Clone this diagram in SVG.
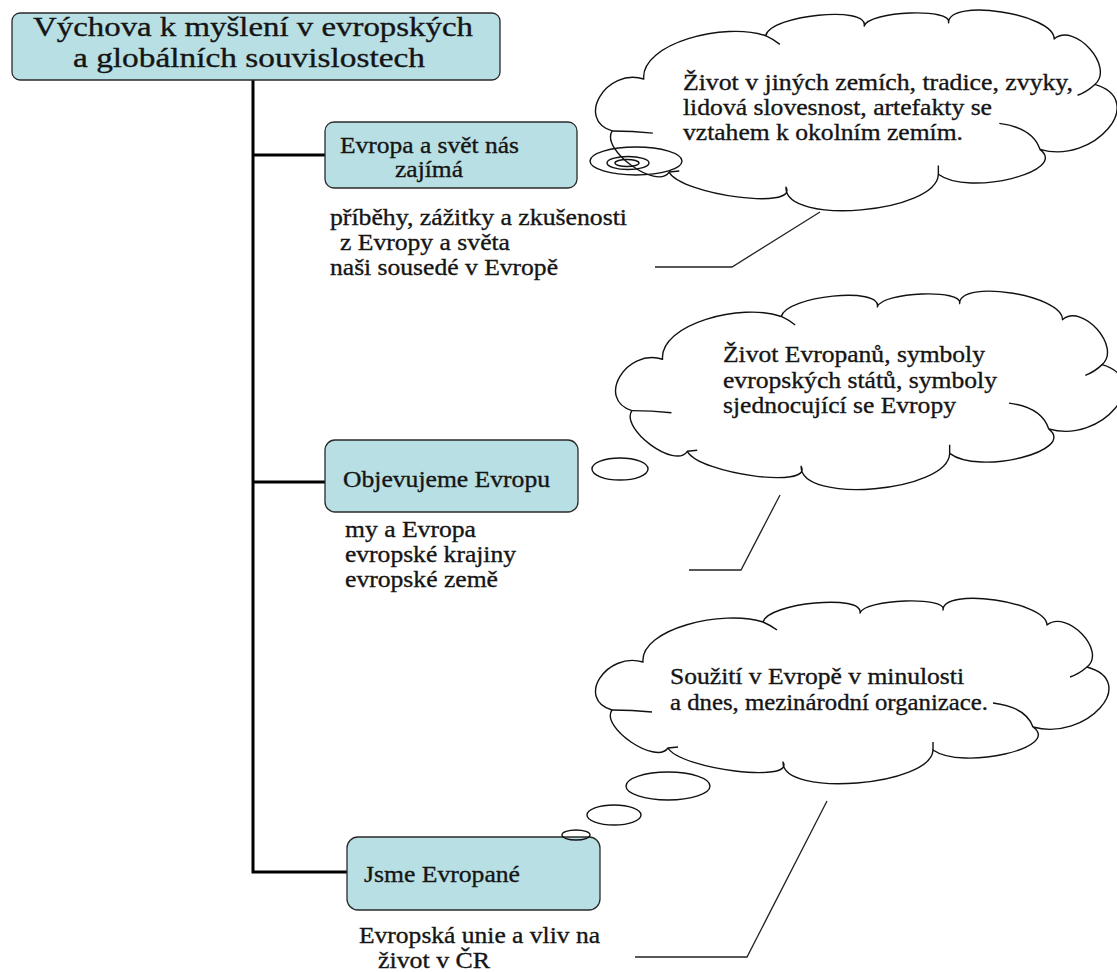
<svg xmlns="http://www.w3.org/2000/svg" width="1117" height="972" viewBox="0 0 1117 972">
<style>
  .box{fill:#b8dfe3;stroke:#2a2a2a;stroke-width:1.3}
  .t{font-family:"Liberation Serif","Times New Roman",serif;font-size:24px;fill:#151515;stroke:#151515;stroke-width:0.35}
  .tt{font-size:28px}
  .cl{fill:none;stroke:#111;stroke-width:1.4;vector-effect:non-scaling-stroke;stroke-linejoin:round}
  .tree{fill:none;stroke:#000;stroke-width:3;stroke-linejoin:miter}
  .lead{fill:none;stroke:#222;stroke-width:1.3}
  .bub{fill:none;stroke:#111;stroke-width:1.4}
</style>
<defs>
  <g id="cloud">
    <path class="cl" d="M45,61 C42,28 125,8 165,21 C169.7,1.7 266.7,-7.3 262,12 C266.7,-2 349.7,-5 345,9 C345,-14.3 449,0.7 449,24 C469,8 509,50 489,66 C542.3,80.7 488.3,140.7 435,126 C464.3,146.7 364.3,169.7 335,149 C333.7,185 183.7,197 185,161 C197.7,182.3 82.7,168.3 70,147 C58,164.3 2,126.3 14,109 C-22.7,98.3 8.3,50.3 45,61 Z"/>
    <path class="cl" d="M54,111 Q34,109 14,109 M179,29 Q172,24 165,21 M472,76 Q481,73 489,66 M395,102 Q428,106 435,126 M70,147 L80,146 M335,149 L335,141"/>
  </g>
</defs>

<g id="connectors">
  <path class="tree" d="M253,80 V872 H347"/>
  <path class="tree" d="M253,155 H325"/>
  <path class="tree" d="M253,482 H325"/>
  <polyline class="lead" points="655,267 732,267 820,212"/>
  <polyline class="lead" points="689,570 741,570 780,495"/>
  <polyline class="lead" points="635,957 747,957 827,801"/>
</g>

<g id="title">
  <rect class="box" x="12" y="13" width="488" height="67" rx="8"/>
  <text class="t tt" x="33" y="36" textLength="440" lengthAdjust="spacingAndGlyphs">Výchova k myšlení v evropských</text>
  <text class="t tt" x="73" y="67" textLength="352" lengthAdjust="spacingAndGlyphs">a globálních souvislostech</text>
</g>

<g id="node-evropa-svet">
  <rect class="box" x="325" y="122" width="252" height="66" rx="9"/>
  <text class="t" x="340" y="153" textLength="179" lengthAdjust="spacingAndGlyphs">Evropa a svět nás</text>
  <text class="t" x="395" y="177" textLength="68" lengthAdjust="spacingAndGlyphs">zajímá</text>
</g>
<g id="text-evropa-svet">
  <text class="t" x="330" y="225" textLength="297" lengthAdjust="spacingAndGlyphs">příběhy, zážitky a zkušenosti</text>
  <text class="t" x="340" y="250" textLength="170" lengthAdjust="spacingAndGlyphs">z Evropy a světa</text>
  <text class="t" x="330" y="275" textLength="228" lengthAdjust="spacingAndGlyphs">naši sousedé v Evropě</text>
</g>

<g id="node-objevujeme">
  <rect class="box" x="325" y="440" width="253" height="72" rx="10"/>
  <text class="t" x="343" y="487" textLength="207" lengthAdjust="spacingAndGlyphs">Objevujeme Evropu</text>
</g>
<g id="text-objevujeme">
  <text class="t" x="345" y="537" textLength="131" lengthAdjust="spacingAndGlyphs">my a Evropa</text>
  <text class="t" x="345" y="562" textLength="171" lengthAdjust="spacingAndGlyphs">evropské krajiny</text>
  <text class="t" x="345" y="587" textLength="153" lengthAdjust="spacingAndGlyphs">evropské země</text>
</g>

<g id="node-jsme">
  <rect class="box" x="347" y="837" width="253" height="73" rx="11"/>
  <text class="t" x="364" y="882" textLength="156" lengthAdjust="spacingAndGlyphs">Jsme Evropané</text>
</g>
<g id="text-jsme">
  <text class="t" x="359" y="943" textLength="241" lengthAdjust="spacingAndGlyphs">Evropská unie a vliv na</text>
  <text class="t" x="378" y="968" textLength="112" lengthAdjust="spacingAndGlyphs">život v ČR</text>
</g>

<g id="cloud1">
  <use href="#cloud" transform="translate(598,13) scale(1.016,1.082)"/>
  <ellipse class="bub" cx="636" cy="161" rx="46" ry="14"/>
  <ellipse class="bub" cx="628" cy="163" rx="21" ry="6.5"/>
  <ellipse class="bub" cx="627" cy="163" rx="12" ry="3.5"/>
  <text class="t" x="683" y="90" textLength="390" lengthAdjust="spacingAndGlyphs">Život v jiných zemích, tradice, zvyky,</text>
  <text class="t" x="683" y="115" textLength="309" lengthAdjust="spacingAndGlyphs">lidová slovesnost, artefakty se</text>
  <text class="t" x="683" y="140" textLength="280" lengthAdjust="spacingAndGlyphs">vztahem k okolním zemím.</text>
</g>

<g id="cloud2">
  <use href="#cloud" transform="translate(618,294) scale(0.99,1.07)"/>
  <ellipse class="bub" cx="620" cy="469" rx="28" ry="11"/>
  <text class="t" x="723" y="362" textLength="262" lengthAdjust="spacingAndGlyphs">Život Evropanů, symboly</text>
  <text class="t" x="723" y="388" textLength="274" lengthAdjust="spacingAndGlyphs">evropských států, symboly</text>
  <text class="t" x="723" y="413" textLength="233" lengthAdjust="spacingAndGlyphs">sjednocující se Evropy</text>
</g>

<g id="cloud3">
  <use href="#cloud" transform="translate(598,601)"/>
  <ellipse class="bub" cx="668" cy="786" rx="42" ry="14"/>
  <ellipse class="bub" cx="614" cy="815" rx="27" ry="10"/>
  <ellipse class="bub" cx="576" cy="835" rx="14" ry="5"/>
  <text class="t" x="670" y="684" textLength="294" lengthAdjust="spacingAndGlyphs">Soužití v Evropě v minulosti</text>
  <text class="t" x="670" y="710" textLength="318" lengthAdjust="spacingAndGlyphs">a dnes, mezinárodní organizace.</text>
</g>
</svg>
